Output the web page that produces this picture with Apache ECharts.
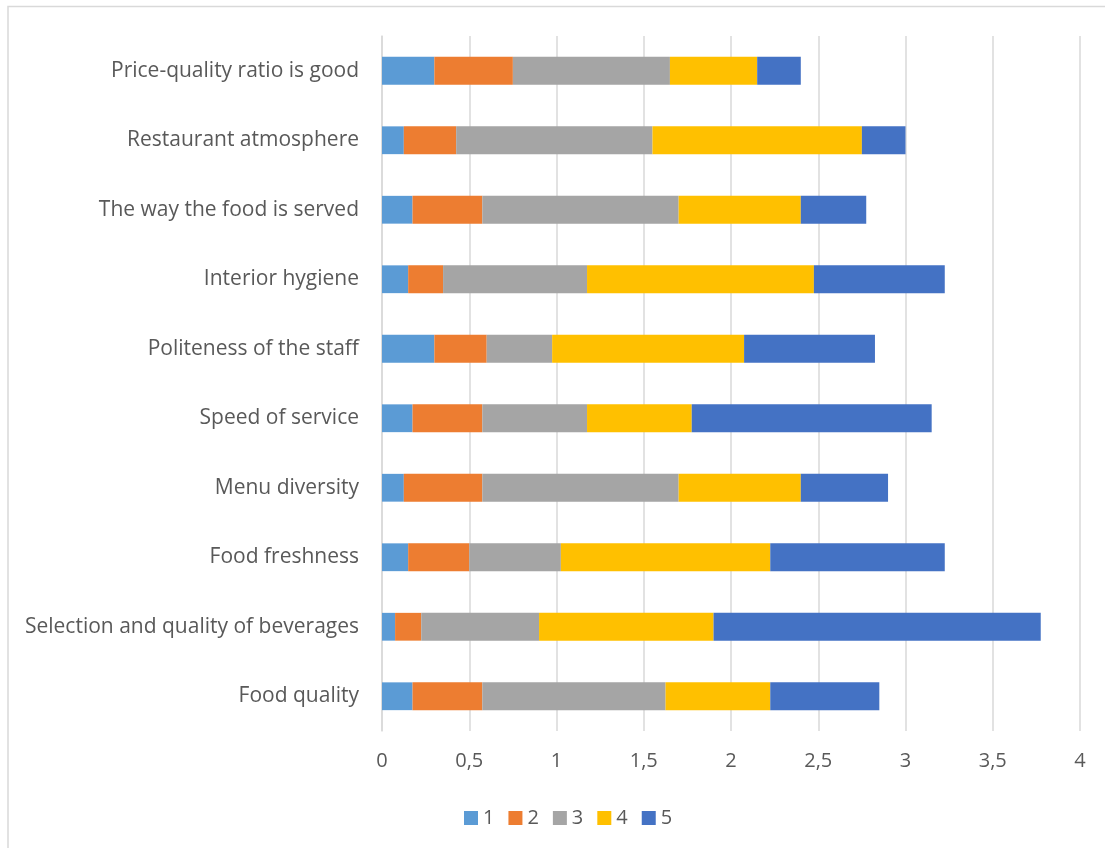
<!DOCTYPE html>
<html>
<head>
<meta charset="utf-8">
<script src="https://cdn.jsdelivr.net/npm/echarts@6/dist/echarts.min.js"></script>
<style>
html,body{margin:0;padding:0;background:#fff;}
#chart{width:1105px;height:848px;}
</style>
</head>
<body>
<div id="chart"></div>
<script>
// Categories, listed bottom to top (as drawn by the category axis)
var categories = [
  'Food quality',
  'Selection and quality of beverages',
  'Food freshness',
  'Menu diversity',
  'Speed of service',
  'Politeness of the staff',
  'Interior hygiene',
  'The way the food is served',
  'Restaurant atmosphere',
  'Price-quality ratio is good'
];
var seriesNames = ['1', '2', '3', '4', '5'];
var s1 = [0.175, 0.075, 0.15, 0.125, 0.175, 0.3, 0.15, 0.175, 0.125, 0.3];
var s2 = [0.4, 0.15, 0.35, 0.45, 0.4, 0.3, 0.2, 0.4, 0.3, 0.45];
var s3 = [1.05, 0.675, 0.525, 1.125, 0.6, 0.375, 0.825, 1.125, 1.125, 0.9];
var s4 = [0.6, 1.0, 1.2, 0.7, 0.6, 1.1, 1.3, 0.7, 1.2, 0.5];
var s5 = [0.625, 1.875, 1.0, 0.5, 1.375, 0.75, 0.75, 0.375, 0.25, 0.25];
var xTicks = [0, 0.5, 1, 1.5, 2, 2.5, 3, 3.5, 4];

var colors = ['#5B9BD5', '#ED7D31', '#A5A5A5', '#FFC000', '#4472C4'];
var values = [s1, s2, s3, s4, s5];
var font = '"Open Sans", sans-serif';

var chart = echarts.init(document.getElementById('chart'), null, {renderer: 'canvas'});
chart.setOption({
  animation: false,
  backgroundColor: '#fff',
  color: colors,
  graphic: [{
    type: 'rect',
    shape: {x: 8, y: 6.5, width: 1200, height: 1000},
    style: {fill: 'none', stroke: '#d9d9d9', lineWidth: 1.5},
    silent: true
  }],
  grid: {left: 382, right: 25, top: 36, bottom: 117, containLabel: false},
  legend: {
    left: 459,
    top: 803,
    itemWidth: 14,
    itemHeight: 14,
    itemGap: 14,
    icon: 'rect',
    textStyle: {color: '#595959', fontSize: 20, fontFamily: font, padding: [0, 0, 0, 0]},
    data: seriesNames
  },
  xAxis: {
    type: 'value',
    min: xTicks[0],
    max: xTicks[xTicks.length - 1],
    interval: 0.5,
    axisLine: {show: false},
    axisTick: {show: false},
    splitLine: {lineStyle: {color: '#d9d9d9', width: 1.5}},
    axisLabel: {
      color: '#595959',
      fontSize: 20,
      fontFamily: font,
      margin: 20,
      formatter: function (v) { return String(v).replace('.', ','); }
    }
  },
  yAxis: {
    type: 'category',
    data: categories,
    axisLine: {show: true, lineStyle: {color: '#d9d9d9', width: 1.5}},
    axisTick: {show: false},
    axisLabel: {color: '#595959', fontSize: 21, fontFamily: font, margin: 23}
  },
  series: seriesNames.map(function (n, i) {
    return {
      name: n,
      type: 'bar',
      stack: 'total',
      barCategoryGap: '60%',
      data: values[i],
      itemStyle: {color: colors[i]}
    };
  })
});
</script>
</body>
</html>
